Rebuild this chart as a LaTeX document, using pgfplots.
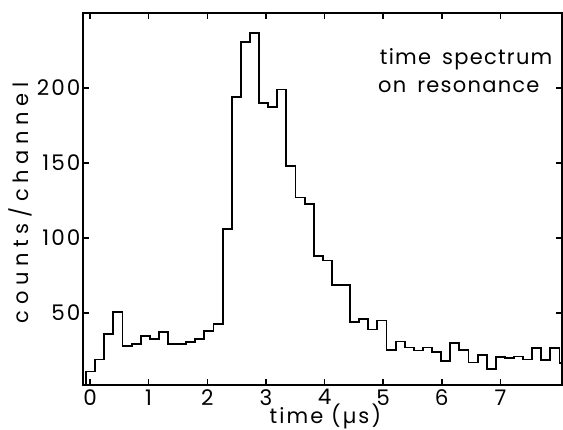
\documentclass[border=0pt]{standalone}
\usepackage{fontspec}
\setmainfont{Poppins}[LetterSpace=10]
\newfontfamily\ylabfont{Poppins}[LetterSpace=27]
\newfontfamily\notefont{Poppins}[LetterSpace=6, WordSpace=1.6]
\usepackage{pgfplots}
\pgfplotsset{compat=1.18}

\begin{document}
\begin{tikzpicture}
\useasboundingbox (-83pt,-45pt) rectangle (480pt,385pt);
\begin{axis}[
    scale only axis,
    width=479pt, height=372pt,
    at={(0,0)}, anchor=south west,
    xmin=-0.12, xmax=8.05,
    ymin=2, ymax=250,
    xtick={0,...,7},
    ytick={50,100,150,200},
    tick align=inside,
    major tick length=6pt,
    axis line style={line width=1.5pt},
    every tick/.style={line width=1.5pt, black},
    /pgf/number format/assume math mode=true,
    tick label style={font=\fontsize{21.5}{24}\selectfont},
    xticklabel style={yshift=-1pt},
    yticklabel style={xshift=1pt},
    xlabel={time (µs)},
    ylabel={counts/channel},
    xlabel style={font=\fontsize{21}{24}\selectfont,
        at={(axis description cs:0.506,0)}, anchor=base, yshift=-39pt},
    ylabel style={font=\fontsize{21}{24}\ylabfont,
        at={(axis description cs:-0.13,0.49)}, anchor=center},
    clip=true,
]

% histogram: left bin edges (us) and counts per channel
\addplot[const plot mark left, line width=1.9pt, black] coordinates {
    (-0.068,0)
    (-0.068,11)
    (0.087,19)
    (0.243,36)
    (0.398,50.5)
    (0.553,28)
    (0.709,29.5)
    (0.864,34.5)
    (1.019,32.5)
    (1.174,37.5)
    (1.330,29.5)
    (1.485,29.5)
    (1.640,30.8)
    (1.796,32.7)
    (1.951,38)
    (2.106,42.7)
    (2.262,106)
    (2.417,194)
    (2.572,230.5)
    (2.727,236.5)
    (2.883,190)
    (3.038,187.5)
    (3.193,199)
    (3.349,148)
    (3.504,127)
    (3.659,122.5)
    (3.815,88)
    (3.970,85)
    (4.125,68.5)
    (4.280,68.5)
    (4.436,44)
    (4.591,46)
    (4.746,39)
    (4.902,45)
    (5.057,25.6)
    (5.212,31)
    (5.368,27)
    (5.523,25)
    (5.678,27)
    (5.833,24)
    (5.989,18)
    (6.144,29.8)
    (6.299,25.5)
    (6.455,17)
    (6.610,22)
    (6.765,12.5)
    (6.921,20.5)
    (7.076,20)
    (7.231,21)
    (7.386,19)
    (7.542,26.4)
    (7.697,18.7)
    (7.852,26.4)
    (8.008,16.4)
    (8.163,16.4)
};

\node[anchor=base west, font=\fontsize{21}{24}\notefont] at (axis cs:4.883,215.7) {time spectrum};
\node[anchor=base west, font=\fontsize{21}{24}\notefont] at (axis cs:4.855,196.9) {on resonance};

\end{axis}
\end{tikzpicture}
\end{document}
